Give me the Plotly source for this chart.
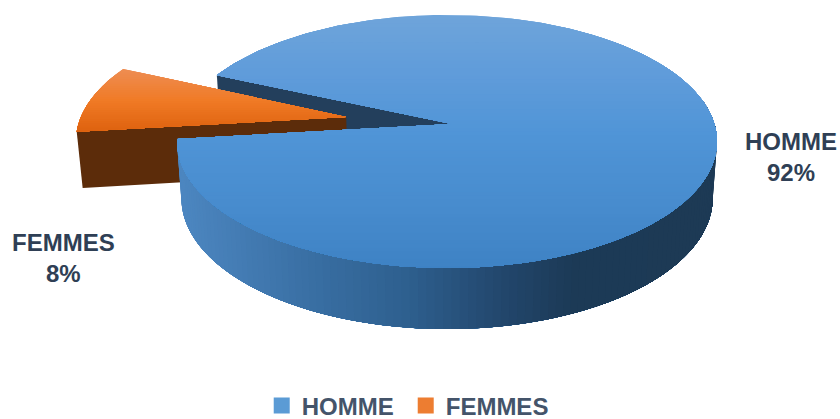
import numpy as np
import plotly.graph_objects as go

categories = ["HOMME", "FEMMES"]
values = [92, 8]
legend_colors = ["#5b9bd5", "#ed7d31"]

# projection of the tilted pie (disc coordinates -> canvas pixels)
CX, CY, C, A, K = 447.0, 124.0, 267.4, -124.1, 0.138
DEPTH, BX, BY = 56.0, 0.984, 1.035
FEMMES_STRETCH = 31.3 / 28.8        # perspective widens the small wedge on screen
PULL = (-0.38, 0.057)
START = 155.5
TIP_NUDGE = 5.0                     # keeps the hair-thin tip of the gap visible

def proj(u, v, bottom=False):
    w = 1 + K * v
    x, y = C * u / w, A * v / w
    if bottom:
        return CX + x * BX, CY + DEPTH + y * BY
    return CX + x, CY + y

def rim(a0, a1, n, off=(0, 0), bottom=False):
    t = np.radians(np.linspace(a0, a1, n))
    return proj(np.cos(t) + off[0], np.sin(t) + off[1], bottom)

def lerp_color(stops, p):
    xs = [s[0] for s in stops]
    rgb = [np.interp(p, xs, [s[1][i] for s in stops]) for i in range(3)]
    return "rgb(%d,%d,%d)" % tuple(int(round(c)) for c in rgb)

def clip_below(xs, ys, y0):
    """Keep the part of a polygon with y >= y0."""
    ox, oy = [], []
    n = len(xs)
    for i in range(n):
        x1, y1, x2, y2 = xs[i], ys[i], xs[(i + 1) % n], ys[(i + 1) % n]
        if y1 >= y0:
            ox.append(x1); oy.append(y1)
        if (y1 >= y0) != (y2 >= y0):
            f = (y0 - y1) / (y2 - y1)
            ox.append(x1 + f * (x2 - x1)); oy.append(y0)
    return ox, oy

fig = go.Figure()

def poly(xs, ys, color):
    fig.add_trace(go.Scatter(x=list(xs), y=list(ys), mode="lines", fill="toself", fillcolor=color,
                             line=dict(width=0, color=color), hoverinfo="skip", showlegend=False))

def graded(xs, ys, stops, y0, y1, n):
    for yy in np.linspace(y0, y1, n):
        ox, oy = clip_below(list(xs), list(ys), yy)
        if len(ox) > 2:
            poly(ox, oy, lerp_color(stops, yy))

total = sum(values)
f_span = 360 * values[1] / total * FEMMES_STRETCH
f_a0, f_a1 = START, START + f_span
h_a0, h_a1 = f_a1 - 360, START

# inner cut face of the large slice
rx, ry = proj(np.cos(np.radians(START)), np.sin(np.radians(START)))
bx, by = proj(np.cos(np.radians(START)), np.sin(np.radians(START)), True)
ax_, ay_ = proj(0.0, 0.0)
ax_ += TIP_NUDGE
abx, aby = proj(0.0, 0.0, True)
poly([rx, ax_, abx, bx], [ry, ay_, aby, by], "#233f5c")

# pulled slice: cut face + top
pa = proj(PULL[0], PULL[1])
pb = proj(PULL[0], PULL[1], True)
e = rim(f_a1, f_a1, 1, PULL)
eb = rim(f_a1, f_a1, 1, PULL, True)
poly([pa[0], e[0][0], eb[0][0], pb[0]], [pa[1], e[1][0], eb[1][0], pb[1]], "#5c2c0a")
orange_stops = [(70, (238, 140, 80)), (100, (240, 122, 37)), (130, (222, 98, 15))]
ox, oy = rim(f_a0, f_a1, 40, PULL)
graded([pa[0], *ox], [pa[1], *oy], orange_stops, 66, 130, 30)

# outer wall of the large slice, painted left to right
wall_stops = [(180, (76, 134, 192)), (300, (58, 112, 165)), (400, (46, 96, 143)),
              (500, (34, 70, 108)), (570, (28, 58, 86)), (720, (29, 58, 85))]
w_end = 372
for a in np.linspace(f_a1, w_end, 120):
    tx, ty = rim(a, w_end, 90)
    qx, qy = rim(w_end, a, 90, bottom=True)
    poly(np.r_[tx, qx], np.r_[ty, qy], lerp_color(wall_stops, float(tx[0])))

# top of the large slice, painted top to bottom
blue_stops = [(15, (110, 164, 218)), (70, (96, 156, 218)), (130, (80, 149, 215)),
              (200, (72, 140, 206)), (268, (62, 130, 196))]
tx, ty = rim(h_a1, h_a0, 260)
graded([ax_, *tx], [ay_, *ty], blue_stops, 12, 270, 70)

# legend entries
for name, col in zip(categories, legend_colors):
    fig.add_trace(go.Scatter(x=[None], y=[None], mode="markers", name=name,
                             marker=dict(symbol="square", size=17, color=col)))

FONT = "Liberation Sans, Arial"
label_pos = [(791, 157), (63, 258)]
for name, val, (lx, ly) in zip(categories, values, label_pos):
    fig.add_annotation(x=lx, y=ly, xref="x", yref="y", showarrow=False, align="center",
                       text=f"<b>{name}<br>{val}%</b>",
                       font=dict(family=FONT, size=24, color="#2f3f55"))

fig.update_layout(
    width=840, height=419, margin=dict(l=0, r=0, t=0, b=0, autoexpand=False),
    paper_bgcolor="white", plot_bgcolor="white",
    xaxis=dict(range=[0, 840], visible=False, fixedrange=True),
    yaxis=dict(range=[419, 0], visible=False, fixedrange=True),
    legend=dict(orientation="h", x=0.483, xanchor="center", y=0.031, yanchor="middle",
                entrywidth=99, entrywidthmode="pixels",
                font=dict(family=FONT, size=24, color="#44546a", weight="bold"),
                bgcolor="rgba(0,0,0,0)", itemsizing="trace", traceorder="normal"),
)
fig.write_html("out.html", config={"displayModeBar": False},
               post_script="document.body.style.margin='0';")
